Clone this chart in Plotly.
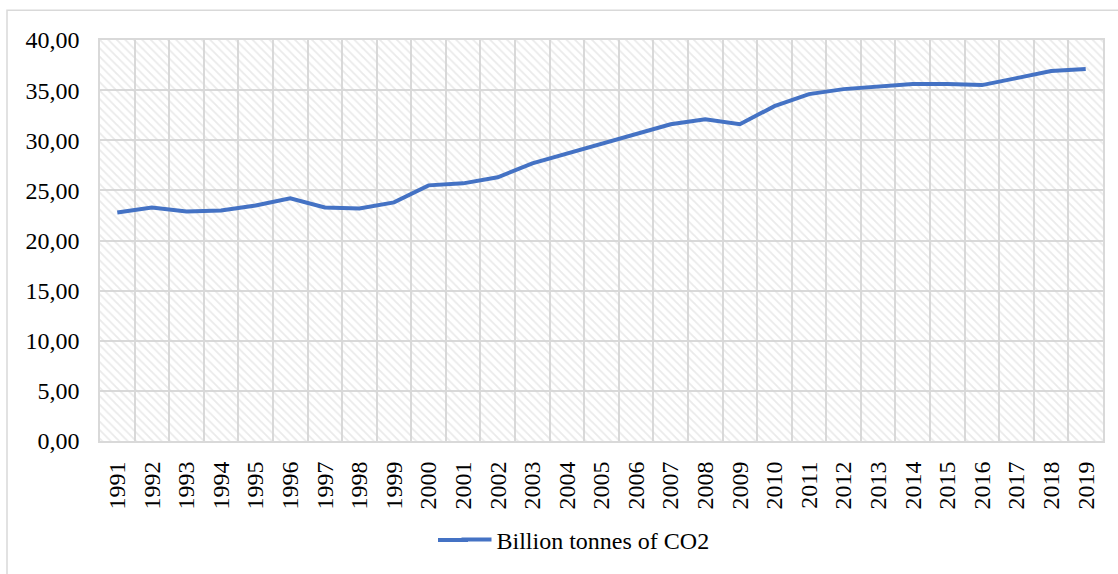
import plotly.graph_objects as go

years = [str(y) for y in range(1991, 2020)]
co2 = [22.8, 23.3, 22.9, 23.0, 23.5, 24.2, 23.3, 23.2, 23.8, 25.5,
       25.7, 26.3, 27.7, 28.7, 29.6, 30.6, 31.6, 32.1, 31.6, 33.4,
       34.6, 35.1, 35.4, 35.6, 35.6, 35.5, 36.2, 36.9, 37.1]
y_ticks = [0, 5, 10, 15, 20, 25, 30, 35, 40]
y_tick_labels = ["0,00", "5,00", "10,00", "15,00", "20,00", "25,00", "30,00", "35,00", "40,00"]
series_name = "Billion tonnes of CO2"

W, H = 1118, 574
L, R, T, B = 100, 15, 40, 129
PW, PH = W - L - R, H - T - B
FONT = "Liberation Serif"
GRID = "#d9d9d9"
LINE = "#4472c4"
FS = 24

fig = go.Figure()

# hatched plot-area background (decoration on hidden unit axes)
fig.add_trace(go.Scatter(
    x=[0, 1, 1, 0, 0], y=[0, 0, 1, 1, 0],
    xaxis="x", yaxis="y",
    mode="none", fill="toself", fillcolor="rgba(0,0,0,0)",
    fillpattern=dict(shape="\\", fgcolor="#d6d6d6", bgcolor="rgba(0,0,0,0)",
                     size=6, solidity=0.3),
    hoverinfo="skip", showlegend=False,
))

fig.add_trace(go.Scatter(
    x=years, y=co2, xaxis="x2", yaxis="y2",
    mode="lines", name=series_name,
    line=dict(color=LINE, width=4),
))

fig.update_layout(
    width=W, height=H,
    margin=dict(l=L, r=R, t=T, b=B),
    paper_bgcolor="white", plot_bgcolor="white",
    font=dict(family=FONT, size=FS, color="black"),
    xaxis=dict(range=[0, 1], visible=False, fixedrange=True),
    yaxis=dict(range=[0, 1], visible=False, fixedrange=True),
    xaxis2=dict(
        overlaying="x", type="category", categoryorder="array", categoryarray=years,
        range=[-0.5, len(years) - 0.5], tickson="boundaries",
        showgrid=True, gridcolor=GRID, gridwidth=1.5,
        showline=True, linecolor=GRID, linewidth=2, mirror=True,
        ticks="", tickangle=-90, ticklabelstandoff=9, tickfont=dict(family=FONT, size=FS),
        side="bottom",
    ),
    yaxis2=dict(
        overlaying="y", range=[0, 40], tickvals=y_ticks, ticktext=y_tick_labels,
        showgrid=True, gridcolor=GRID, gridwidth=1.5, zeroline=False,
        showline=True, linecolor=GRID, linewidth=1.5, mirror=True,
        ticks="", ticklabelstandoff=14, tickfont=dict(family=FONT, size=FS),
    ),
    showlegend=True,
    legend=dict(orientation="h", x=(585.5 - L) / PW, xanchor="center",
                y=-(545 - T - PH) / PH, yanchor="middle",
                font=dict(family=FONT, size=FS), itemwidth=30, bgcolor="rgba(0,0,0,0)"),
)

# extend the legend line sample to the left (Excel-style long sample)
fig.add_shape(type="line", xref="paper", yref="paper",
              x0=(438 - L) / PW, x1=(468 - L) / PW,
              y0=-(545 - T - PH) / PH, y1=-(545 - T - PH) / PH,
              line=dict(color=LINE, width=4))

# outer chart border (light gray frame)
fig.add_shape(type="rect", xref="paper", yref="paper",
              x0=(7 - L) / PW, x1=(W + 20 - L) / PW,
              y0=-(B + 20) / PH,
              y1=1 + (T - 10) / PH,
              line=dict(color="#d9d9d9", width=1.5), layer="below")

fig.write_html("out.html")
